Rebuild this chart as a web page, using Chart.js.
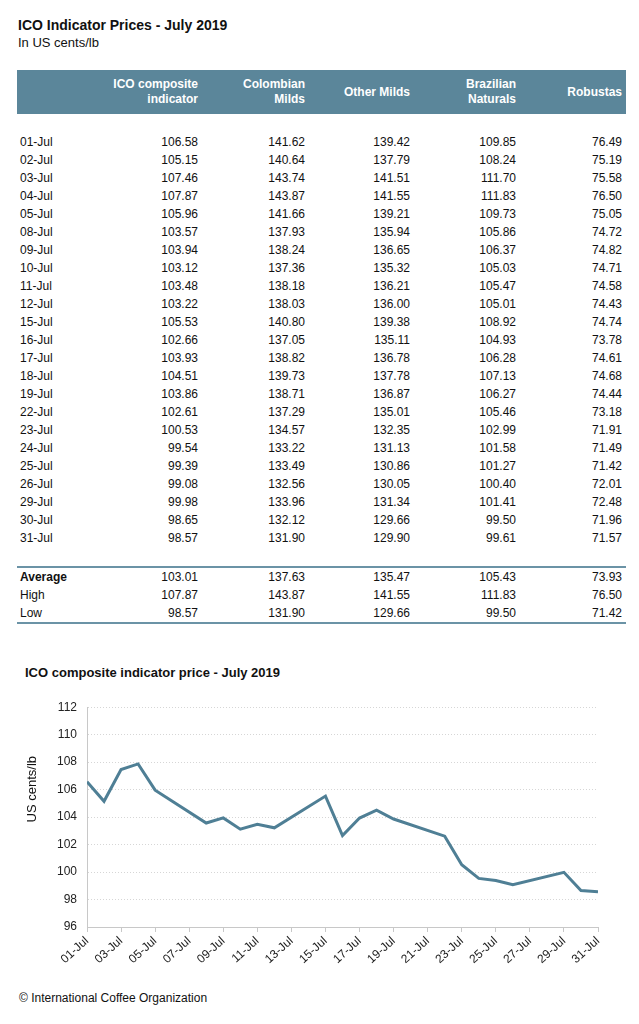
<!DOCTYPE html>
<html>
<head>
<meta charset="utf-8">
<script src="https://cdn.jsdelivr.net/npm/chart.js@4"></script>
<style>
  body { margin: 0; width: 639px; height: 1024px; background: #fff; font-family: "Liberation Sans", Arial, sans-serif; color: #111; position: relative; overflow: hidden; }
  .title { position: absolute; left: 18px; top: 17px; font-size: 14px; font-weight: bold; }
  .sub { position: absolute; left: 18px; top: 35px; font-size: 13px; }
  table { position: absolute; left: 17px; top: 70px; width: 609px; border-collapse: collapse; font-size: 12px; table-layout: fixed; }
  th { background: #5b869a; color: #fff; font-weight: bold; text-align: right; padding: 0 4px 0 0; height: 44px; line-height: 15px; white-space: nowrap; }
  td { text-align: right; padding: 0 4px 0 0; height: 18px; line-height: 18px; white-space: nowrap; }
  td.lbl { text-align: left; padding-left: 3px; }
  tr.gap td { height: 19px; }
  tr.avg td { border-top: 2px solid #6b93a6; }
  tr.avg td.lbl { font-weight: bold; }
  tr.last td { border-bottom: 2px solid #6b93a6; }
  .ctitle { position: absolute; left: 25px; top: 665px; font-size: 13px; font-weight: bold; }
  .copy { position: absolute; left: 19px; top: 991px; font-size: 12px; }
  #wrap { position: absolute; left: 0; top: 690px; width: 639px; height: 290px; }
</style>
</head>
<body>
<div class="title">ICO Indicator Prices - July 2019</div>
<div class="sub">In US cents/lb</div>
<table id="tbl"></table>
<div class="ctitle">ICO composite indicator price - July 2019</div>
<div id="wrap"><canvas id="chart"></canvas></div>
<div class="copy">© International Coffee Organization</div>

<script>
// --- DATOS ---
const columnas = ['ICO composite<br>indicator', 'Colombian<br>Milds', 'Other Milds', 'Brazilian<br>Naturals', 'Robustas'];
const dias = [1, 2, 3, 4, 5, 8, 9, 10, 11, 12, 15, 16, 17, 18, 19, 22, 23, 24, 25, 26, 29, 30, 31];
const fechas = ['01-Jul', '02-Jul', '03-Jul', '04-Jul', '05-Jul', '08-Jul', '09-Jul', '10-Jul', '11-Jul', '12-Jul', '15-Jul',
  '16-Jul', '17-Jul', '18-Jul', '19-Jul', '22-Jul', '23-Jul', '24-Jul', '25-Jul', '26-Jul', '29-Jul', '30-Jul', '31-Jul'];
const compuesto = [106.58, 105.15, 107.46, 107.87, 105.96, 103.57, 103.94, 103.12, 103.48, 103.22, 105.53,
  102.66, 103.93, 104.51, 103.86, 102.61, 100.53, 99.54, 99.39, 99.08, 99.98, 98.65, 98.57];
const colombianos = [141.62, 140.64, 143.74, 143.87, 141.66, 137.93, 138.24, 137.36, 138.18, 138.03, 140.80,
  137.05, 138.82, 139.73, 138.71, 137.29, 134.57, 133.22, 133.49, 132.56, 133.96, 132.12, 131.90];
const otrosSuaves = [139.42, 137.79, 141.51, 141.55, 139.21, 135.94, 136.65, 135.32, 136.21, 136.00, 139.38,
  135.11, 136.78, 137.78, 136.87, 135.01, 132.35, 131.13, 130.86, 130.05, 131.34, 129.66, 129.90];
const brasilenos = [109.85, 108.24, 111.70, 111.83, 109.73, 105.86, 106.37, 105.03, 105.47, 105.01, 108.92,
  104.93, 106.28, 107.13, 106.27, 105.46, 102.99, 101.58, 101.27, 100.40, 101.41, 99.50, 99.61];
const robustas = [76.49, 75.19, 75.58, 76.50, 75.05, 74.72, 74.82, 74.71, 74.58, 74.43, 74.74,
  73.78, 74.61, 74.68, 74.44, 73.18, 71.91, 71.49, 71.42, 72.01, 72.48, 71.96, 71.57];
const promedio = [103.01, 137.63, 135.47, 105.43, 73.93];
const maximo = [107.87, 143.87, 141.55, 111.83, 76.50];
const minimo = [98.57, 131.90, 129.66, 99.50, 71.42];
const ticksY = [96, 98, 100, 102, 104, 106, 108, 110, 112];
const tituloY = 'US cents/lb';

// --- TABLA ---
const anchos = [94, 91, 107, 105, 106, 106];
const tbl = document.getElementById('tbl');
let html = '<colgroup>' + anchos.map(w => `<col style="width:${w}px">`).join('') + '</colgroup>';
html += '<tr><th></th>' + columnas.map(c => `<th>${c}</th>`).join('') + '</tr>';
html += '<tr class="gap"><td colspan="6"></td></tr>';
const series = [compuesto, colombianos, otrosSuaves, brasilenos, robustas];
fechas.forEach((f, i) => {
  html += `<tr><td class="lbl">${f}</td>` + series.map(s => `<td>${s[i].toFixed(2)}</td>`).join('') + '</tr>';
});
html += '<tr class="gap"><td colspan="6"></td></tr>';
const fila = (cls, nombre, vals) => `<tr class="${cls}"><td class="lbl">${nombre}</td>` + vals.map(v => `<td>${v.toFixed(2)}</td>`).join('') + '</tr>';
html += fila('avg', 'Average', promedio);
html += fila('', 'High', maximo);
html += fila('last', 'Low', minimo);
tbl.innerHTML = html;

// --- GRÁFICO ---
const pad = n => (n < 10 ? '0' : '') + n;

// título del eje Y, algo más arriba que el centro como en el original
const tituloEjeY = {
  id: 'tituloEjeY',
  afterDraw(chart) {
    const c = chart.ctx;
    c.save();
    c.translate(32, chart.chartArea.top + 82);
    c.rotate(-Math.PI / 2);
    c.fillStyle = '#111';
    c.font = '13px "Liberation Sans"';
    c.textAlign = 'center';
    c.textBaseline = 'middle';
    c.fillText(tituloY, 0, 0);
    c.restore();
  }
};

const ctx = document.getElementById('chart').getContext('2d');
new Chart(ctx, {
  type: 'line',
  data: {
    datasets: [{
      data: dias.map((d, i) => ({ x: d, y: compuesto[i] })),
      borderColor: '#4f7f95',
      borderWidth: 3,
      pointRadius: 0,
      tension: 0,
      fill: false
    }]
  },
  options: {
    responsive: true,
    maintainAspectRatio: false,
    animation: false,
    layout: { padding: { top: 15, right: 41, left: 0, bottom: 0 } },
    plugins: { legend: { display: false }, tooltip: { enabled: false } },
    scales: {
      x: {
        type: 'linear', min: 1, max: 31,
        afterBuildTicks: s => { s.ticks = []; for (let d = 1; d <= 31; d += 2) s.ticks.push({ value: d }); },
        afterFit: s => { s.height = 53; },
        ticks: {
          autoSkip: false, minRotation: 42, maxRotation: 42, padding: 2,
          color: '#222', font: { family: 'Liberation Sans', size: 12 },
          callback: v => pad(v) + '-Jul'
        },
        grid: { drawOnChartArea: false, drawTicks: true, tickLength: 5, color: '#c8c8c8' },
        border: { color: '#c8c8c8', width: 1 }
      },
      y: {
        min: 96, max: 112,
        afterBuildTicks: s => { s.ticks = ticksY.map(v => ({ value: v })); },
        afterFit: s => { s.width = 87; },
        ticks: { padding: 10, color: '#222', font: { family: 'Liberation Sans', size: 12 } },
        grid: { drawTicks: false, color: '#d6d6d6', lineWidth: 1 },
        border: { color: '#c8c8c8', width: 1, dash: [1, 2] }
      }
    }
  },
  plugins: [tituloEjeY]
});
</script>
</body>
</html>
